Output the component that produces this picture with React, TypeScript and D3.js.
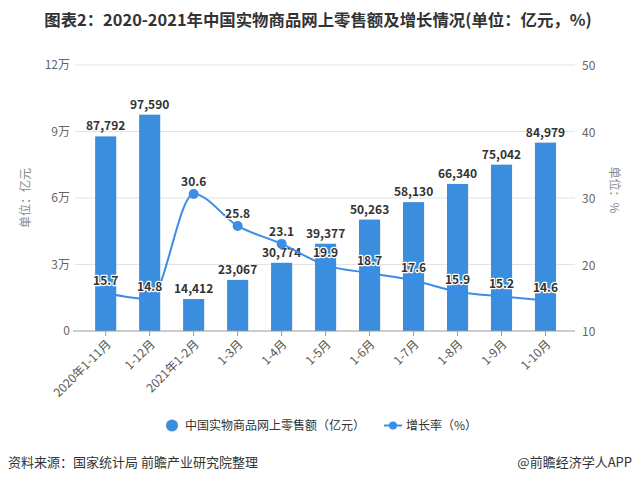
import React from "react";
import * as d3 from "d3";

const categories = ["2020年1-11月", "1-12月", "2021年1-2月", "1-3月", "1-4月", "1-5月", "1-6月", "1-7月", "1-8月", "1-9月", "1-10月"];
const sales = [87792, 97590, 14412, 23067, 30774, 39377, 50263, 58130, 66340, 75042, 84979];
const growth = [15.7, 14.8, 30.6, 25.8, 23.1, 19.9, 18.7, 17.6, 15.9, 15.2, 14.6];
const leftTicks = [0, 30000, 60000, 90000, 120000];
const leftTickLabels = ["0", "3万", "6万", "9万", "12万"];
const rightTicks = [10, 20, 30, 40, 50];

const W = 639, H = 482;
const plotLeft = 75, plotRight = 575, plotTop = 65, plotBottom = 331;
const barColor = "#3b8ddd";
const lineColor = "#3a8ee6";
const font = "'Noto Sans CJK SC', 'Noto Sans', sans-serif";

export default function App() {
  const x = d3.scaleBand<string>().domain(categories).range([83.7, 567.5]).paddingInner(0.52).paddingOuter(0.26);
  const xc = (c: string) => (x(c) as number) + x.bandwidth() / 2;
  const yL = d3.scaleLinear().domain([0, 120000]).range([plotBottom, plotTop]);
  const yR = d3.scaleLinear().domain([10, 50]).range([plotBottom, plotTop]);
  const fmt = d3.format(",");
  const line = d3.line<number>().x((_, i) => xc(categories[i])).y((d) => yR(d)).curve(d3.curveMonotoneX);

  return (
    <svg width={W} height={H} style={{ position: "absolute", left: 0, top: 0, background: "#fff" }} fontFamily={font}>
      <rect x={0} y={0} width={W} height={H} fill="#fff" />
      <text x={318} y={26} textAnchor="middle" fontSize={16.4} fontWeight="bold" fill="#333">
        图表2：2020-2021年中国实物商品网上零售额及增长情况(单位：亿元，%)
      </text>
      {leftTicks.map((t, i) => (
        <g key={t}>
          {i > 0 && <line x1={plotLeft} x2={plotRight} y1={yL(t)} y2={yL(t)} stroke="#e3e3e3" strokeWidth={1} />}
          <text x={70} y={yL(t) + 4} textAnchor="end" fontSize={12} fill="#666">{leftTickLabels[i]}</text>
        </g>
      ))}
      {rightTicks.map((t) => (
        <text key={t} x={582} y={yR(t) + 5} textAnchor="start" fontSize={12} fill="#666">{t}</text>
      ))}
      <text transform={`translate(30,198) rotate(-90)`} textAnchor="middle" fontSize={12} fill="#888">单位：亿元</text>
      <text transform={`translate(610,190) rotate(90)`} textAnchor="middle" fontSize={12} fill="#888">单位：%</text>
      {categories.map((c, i) => (
        <rect key={c} x={x(c)} y={yL(sales[i])} width={x.bandwidth()} height={plotBottom - yL(sales[i])} fill={barColor} />
      ))}
      <line x1={plotLeft - 2} x2={plotRight} y1={plotBottom} y2={plotBottom} stroke="#999" strokeWidth={1} />
      {categories.map((c) => (
        <line key={c} x1={xc(c)} x2={xc(c)} y1={plotBottom} y2={plotBottom + 5} stroke="#999" />
      ))}
      {categories.map((c) => (
        <text key={c} transform={`translate(${xc(c) + 3},${plotBottom + 11}) rotate(-45)`} textAnchor="end" fontSize={12} fill="#555" dy="0.35em">{c}</text>
      ))}
      {categories.map((c, i) => (
        <text key={c} x={xc(c)} y={yL(sales[i]) - 6} textAnchor="middle" fontSize={12} fontWeight="bold" fill="#333">{fmt(sales[i])}</text>
      ))}
      <path d={line(growth) || ""} fill="none" stroke={lineColor} strokeWidth={2} />
      {categories.map((c, i) => (
        <circle key={c} cx={xc(c)} cy={yR(growth[i])} r={5} fill={lineColor} />
      ))}
      {categories.map((c, i) => (
        <text key={c} x={xc(c)} y={yR(growth[i]) - 8} textAnchor="middle" fontSize={12} fontWeight="bold" fill="#333" stroke="#fff" strokeWidth={2.5} paintOrder="stroke" strokeLinejoin="round">{growth[i]}</text>
      ))}
      <circle cx={172} cy={425.5} r={6} fill={barColor} />
      <text x={185} y={430} fontSize={12} fill="#333">中国实物商品网上零售额（亿元）</text>
      <line x1={384} x2={402} y1={425.5} y2={425.5} stroke={lineColor} strokeWidth={2} />
      <circle cx={393} cy={425.5} r={4} fill={lineColor} />
      <text x={406} y={430} fontSize={12} fill="#333">增长率（%）</text>
      <text x={8} y={467} fontSize={13} fill="#333">资料来源：国家统计局 前瞻产业研究院整理</text>
      <text x={632} y={467} textAnchor="end" fontSize={13} fill="#333">@前瞻经济学人APP</text>
    </svg>
  );
}
